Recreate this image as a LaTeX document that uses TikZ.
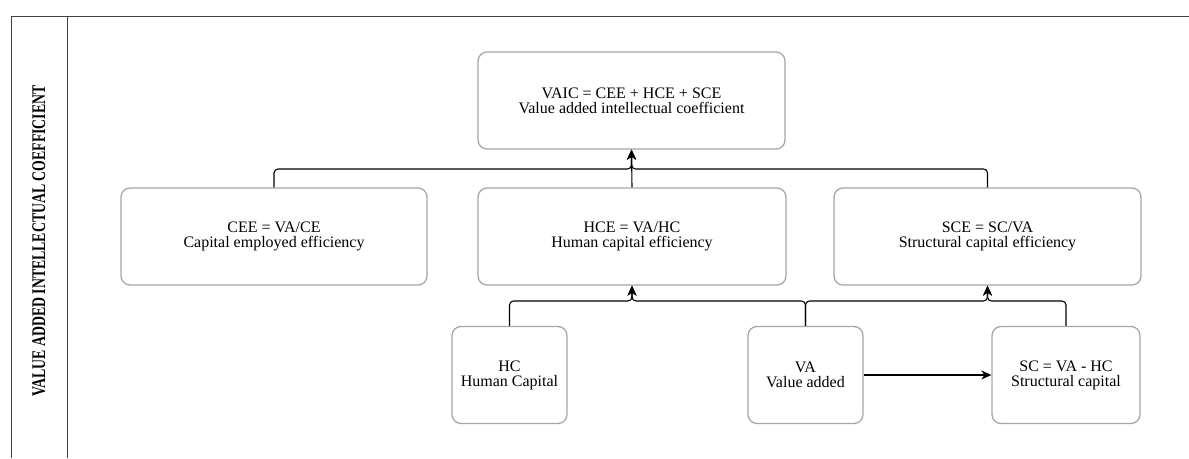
\documentclass[tikz,border=0pt]{standalone}
\usepackage{fontspec}
\setmainfont{Liberation Serif}
\usetikzlibrary{arrows.meta}

\begin{document}
\begin{tikzpicture}[x=1pt, y=-1pt,
        box/.style={draw=gray!70, line width=1.3pt, rounded corners=9pt, align=center,
            inner sep=0pt, minimum height=97pt, font=\fontsize{16}{15}\selectfont},
        conn/.style={-{Stealth[length=10pt,width=9pt,inset=3pt]}, line width=1.1pt, rounded corners=4pt}]
        \useasboundingbox (0,0) rectangle (1189,458);
        % marco y titulo vertical
        \draw[line width=1pt, black!75] (11,458) -- (11,16) -- (1189,16);
        \draw[line width=1pt, black!75] (67,16) -- (67,458);
        \node[rotate=90] (titulo) at (39,241)
            {\scalebox{1}[1.4]{\fontsize{13.8}{14}\selectfont\bfseries VALUE ADDED INTELLECTUAL COEFFICIENT}};
        % cajas
        \node[box, minimum width=307pt] (vaic) at (631.5,100.5) {VAIC = CEE + HCE + SCE\\Value added intellectual coefficient};
        \node[box, minimum width=306pt] (cee) at (274,236.5) {CEE = VA/CE\\Capital employed efficiency};
        \node[box, minimum width=308pt] (hce) at (632,236.5) {HCE = VA/HC\\Human capital efficiency};
        \node[box, minimum width=307pt] (sce) at (987.5,236.5) {SCE = SC/VA\\Structural capital efficiency};
        \node[box, minimum width=115pt] (hc) at (509.5,375) {HC\\Human Capital};
        \node[box, minimum width=115pt] (va) at (805.5,375) {VA\\Value added};
        \node[box, minimum width=148pt] (sc) at (1066,375) {SC = VA - HC\\Structural capital};
        % puntos de union
        \coordinate (jt) at (vaic.south |- 0,169);
        \coordinate (jh) at (hce.south |- 0,301);
        \coordinate (js) at (sce.south |- 0,301);
        % conectores
        \draw[conn] (cee.north) |- (jt) -- (vaic.south);
        \draw[conn] (sce.north) |- (jt) -- (vaic.south);
        \draw[conn] (hce.north) -- (vaic.south);
        \draw[conn] (hc.north) |- (jh) -- (hce.south);
        \draw[conn] (va.north) |- (jh) -- (hce.south);
        \draw[conn] (va.north) |- (js) -- (sce.south);
        \draw[conn] (sc.north) |- (js) -- (sce.south);
        \draw[conn] (va.east) -- (sc.west);
    \end{tikzpicture}
\end{document}
